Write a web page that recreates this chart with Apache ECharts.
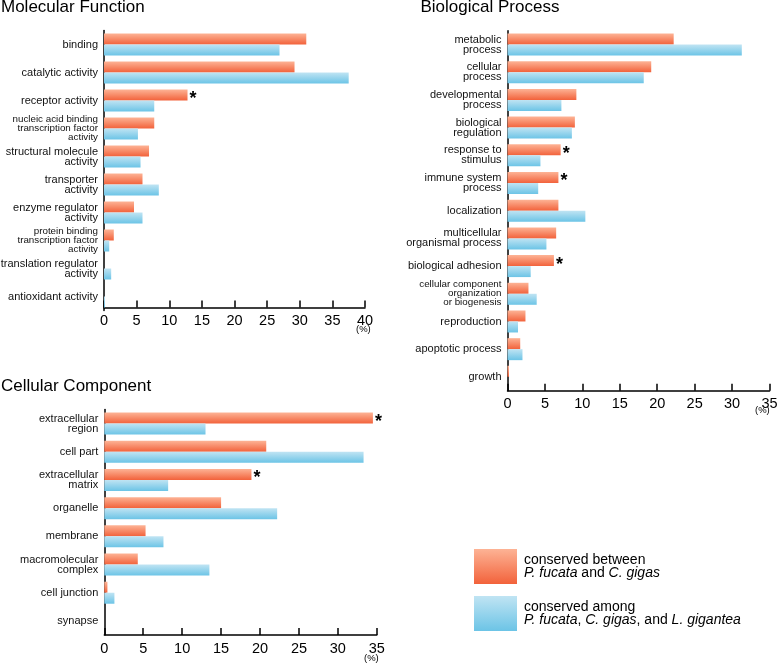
<!DOCTYPE html>
<html>
<head>
<meta charset="utf-8">
<script src="https://cdn.jsdelivr.net/npm/echarts@6/dist/echarts.min.js"></script>
<style>
html,body{margin:0;padding:0;background:#fff;}
#chart{width:778px;height:667px;}
</style>
</head>
<body>
<div id="chart"></div>
<script>
// ---- data ----
const seriesNameA = 'conserved between P. fucata and C. gigas';
const seriesNameB = 'conserved among P. fucata, C. gigas, and L. gigantea';

const mfCategories = ['binding', 'catalytic activity', 'receptor activity',
  'nucleic acid binding\ntranscription factor\nactivity', 'structural molecule\nactivity',
  'transporter\nactivity', 'enzyme regulator\nactivity',
  'protein binding\ntranscription factor\nactivity', 'translation regulator\nactivity',
  'antioxidant activity'];
const mfBetween = [31.0, 29.2, 12.8, 7.7, 6.9, 5.9, 4.6, 1.5, 0, 0];
const mfAmong = [26.9, 37.5, 7.7, 5.2, 5.6, 8.4, 5.9, 0.8, 1.1, 0.15];
const mfStar = [0, 0, 1, 0, 0, 0, 0, 0, 0, 0];

const bpCategories = ['metabolic\nprocess', 'cellular\nprocess', 'developmental\nprocess',
  'biological\nregulation', 'response to\nstimulus', 'immune system\nprocess', 'localization',
  'multicellular\norganismal process', 'biological adhesion',
  'cellular component\norganization\nor biogenesis', 'reproduction', 'apoptotic process', 'growth'];
const bpBetween = [22.2, 19.2, 9.2, 9.0, 7.1, 6.8, 6.8, 6.5, 6.2, 2.8, 2.4, 1.7, 0.2];
const bpAmong = [31.3, 18.2, 7.2, 8.6, 4.4, 4.1, 10.4, 5.2, 3.1, 3.9, 1.4, 2.0, 0];
const bpStar = [0, 0, 0, 0, 1, 1, 0, 0, 1, 0, 0, 0, 0];

const ccCategories = ['extracellular\nregion', 'cell part', 'extracellular\nmatrix', 'organelle',
  'membrane', 'macromolecular\ncomplex', 'cell junction', 'synapse'];
const ccBetween = [34.5, 20.8, 18.9, 15.0, 5.3, 4.3, 0.4, 0];
const ccAmong = [13.0, 33.3, 8.2, 22.2, 7.6, 13.5, 1.3, 0];
const ccStar = [1, 0, 1, 0, 0, 0, 0, 0];

const mfTicks = {min: 0, max: 40, interval: 5};
const bpTicks = {min: 0, max: 35, interval: 5};
const ccTicks = {min: 0, max: 35, interval: 5};

const smallLabels = ['nucleic acid binding\ntranscription factor\nactivity',
  'protein binding\ntranscription factor\nactivity',
  'cellular component\norganization\nor biogenesis'];

// ---- styling ----
const FONT = 'Liberation Sans, Arial, sans-serif';
const orangeGrad = new echarts.graphic.LinearGradient(0, 0, 0, 1, [
  {offset: 0, color: '#fdb395'}, {offset: 1, color: '#f2623b'}]);
const blueGrad = new echarts.graphic.LinearGradient(0, 0, 0, 1, [
  {offset: 0, color: '#c0e4f3'}, {offset: 1, color: '#6cc4e6'}]);

const panels = [
  {title: 'Molecular Function', titleLeft: 1, titleTop: -1.5,
   grid: {left: 104, top: 30.5, width: 261, height: 280}, xOffset: -3,
   cats: mfCategories, a: mfBetween, b: mfAmong, star: mfStar, ticks: mfTicks,
   pct: [364, 330]},
  {title: 'Biological Process', titleLeft: 420.5, titleTop: -1.5,
   grid: {left: 507.5, top: 30.7, width: 262, height: 360}, xOffset: 0,
   cats: bpCategories, a: bpBetween, b: bpAmong, star: bpStar, ticks: bpTicks,
   pct: [763, 411]},
  {title: 'Cellular Component', titleLeft: 1, titleTop: 377.5,
   grid: {left: 104.3, top: 409.5, width: 272.5, height: 225.5}, xOffset: 0,
   cats: ccCategories, a: ccBetween, b: ccAmong, star: ccStar, ticks: ccTicks,
   pct: [372, 659]}
];

const option = {
  animation: false,
  backgroundColor: '#fff',
  title: [], grid: [], xAxis: [], yAxis: [], series: [],
  legend: {
    orient: 'vertical', left: 474, top: 549, itemWidth: 43, itemHeight: 35, itemGap: 12,
    icon: 'rect', padding: 0, selectedMode: false,
    data: [seriesNameA, seriesNameB],
    formatter: function (name) {
      if (name === seriesNameA) return '{n|conserved between}\n{i|P. fucata}{n| and }{i|C. gigas}';
      return '{n|conserved among}\n{i|P. fucata}{n|, }{i|C. gigas}{n|, and }{i|L. gigantea}';
    },
    textStyle: {
      padding: [0, 0, 0, 2],
      rich: {
        n: {fontFamily: FONT, fontSize: 14, lineHeight: 13.5, color: '#000'},
        i: {fontFamily: FONT, fontSize: 14, lineHeight: 13.5, color: '#000', fontStyle: 'italic'}
      }
    }
  },
  graphic: []
};

panels.forEach(function (p, i) {
  option.title.push({
    text: p.title, left: p.titleLeft, top: p.titleTop, padding: 0,
    textStyle: {fontFamily: FONT, fontSize: 17, fontWeight: 'normal', color: '#000', lineHeight: 17}
  });
  option.grid.push(Object.assign({containLabel: false, outerBoundsMode: 'none'}, p.grid));
  option.xAxis.push({
    gridIndex: i, type: 'value', min: p.ticks.min, max: p.ticks.max, interval: p.ticks.interval,
    offset: p.xOffset,
    axisLine: {show: true, lineStyle: {color: '#000', width: 1.5}},
    axisTick: {show: true, inside: true, length: 7, lineStyle: {color: '#000', width: 1.5}},
    splitLine: {show: false},
    axisLabel: {fontFamily: FONT, fontSize: 14.5, color: '#000', margin: 6}
  });
  option.yAxis.push({
    gridIndex: i, type: 'category', inverse: true, data: p.cats,
    axisLine: {show: true, lineStyle: {color: '#000', width: 1.5}},
    axisTick: {show: false},
    axisLabel: {
      margin: 6, align: 'right',
      formatter: function (v) {
        const key = smallLabels.indexOf(v) >= 0 ? 's' : 'n';
        return v.split('\n').map(function (l) { return '{' + key + '|' + l + '}'; }).join('\n');
      },
      rich: {
        n: {fontFamily: FONT, fontSize: 11, lineHeight: 10, color: '#111', align: 'right'},
        s: {fontFamily: FONT, fontSize: 9.8, lineHeight: 9, color: '#111', align: 'right'}
      }
    }
  });
  const star = p.star;
  option.series.push({
    name: seriesNameA, type: 'bar', xAxisIndex: i, yAxisIndex: i, data: p.a,
    barWidth: 11, barGap: '0%',
    itemStyle: {color: orangeGrad},
    label: {
      show: true, position: 'right', distance: 2, offset: [0, 4],
      formatter: function (prm) { return star[prm.dataIndex] ? '*' : ''; },
      fontFamily: FONT, fontSize: 18, fontWeight: 'bold', color: '#000'
    }
  });
  option.series.push({
    name: seriesNameB, type: 'bar', xAxisIndex: i, yAxisIndex: i, data: p.b,
    barWidth: 11, barGap: '0%',
    itemStyle: {color: blueGrad}
  });
  option.graphic.push({
    type: 'text', left: p.pct[0] - 8, top: p.pct[1] - 6,
    style: {text: '(%)', font: '9.5px ' + FONT, fill: '#000'}
  });
});

const chart = echarts.init(document.getElementById('chart'), null, {renderer: 'canvas'});
chart.setOption(option);
</script>
</body>
</html>
